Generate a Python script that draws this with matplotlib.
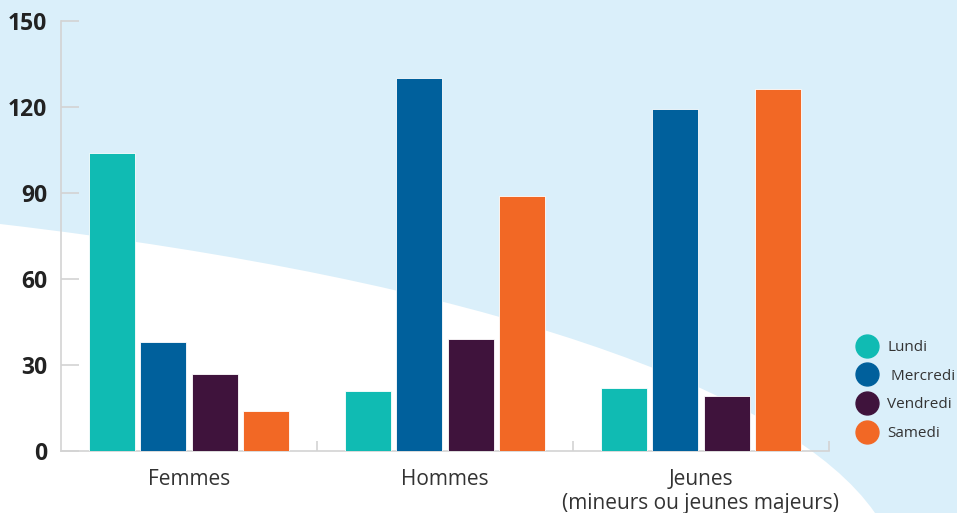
import numpy as np
import matplotlib
matplotlib.use("Agg")
import matplotlib.pyplot as plt
from matplotlib.path import Path
from matplotlib.patches import PathPatch
from matplotlib.lines import Line2D

# data
categories = ["Femmes", "Hommes", "Jeunes\n(mineurs ou jeunes majeurs)"]
series = ["Lundi", " Mercredi", "Vendredi", "Samedi"]
lundi = [104, 21, 22]
mercredi = [38, 130, 119]
vendredi = [27, 39, 19]
samedi = [14, 89, 126]
values = [lundi, mercredi, vendredi, samedi]
colors = ["#10BBB3", "#00609C", "#3F133C", "#F26825"]
yticks = [0, 30, 60, 90, 120, 150]

plt.rcParams["font.family"] = ["Open Sans", "DejaVu Sans"]

W, H = 957, 513
fig = plt.figure(figsize=(W / 100, H / 100), dpi=100)
fig.patch.set_facecolor("#DAEFFA")

# white curved background shape (pixel coords, y from top)
pts = [(0, 224), (480, 280), (790, 390), (875, 513), (0, 513), (0, 224)]
codes = [Path.MOVETO, Path.CURVE4, Path.CURVE4, Path.CURVE4, Path.LINETO, Path.CLOSEPOLY]
verts = [(x / W, 1 - y / H) for x, y in pts]
bg = PathPatch(Path(verts, codes), transform=fig.transFigure,
               facecolor="white", edgecolor="none", zorder=-10)
fig.patches.append(bg)

ax = fig.add_axes([61 / W, 1 - 451 / H, (829 - 61) / W, (451 - 20.5) / H])
ax.set_facecolor("none")

x = np.arange(len(categories))
width = 0.18
step = 0.2
for i, (vals, c) in enumerate(zip(values, colors)):
    ax.bar(x + (i - 1.5) * step, vals, width, color=c,
           edgecolor="white", linewidth=0.6, zorder=3)

ax.set_xlim(-0.5, 2.5)
ax.set_ylim(0, 150)

for s in ["top", "right"]:
    ax.spines[s].set_visible(False)
ax.spines["left"].set_color("#D3D3D3")
ax.spines["bottom"].set_color("#D3D3D3")
ax.spines["left"].set_linewidth(1.2)
ax.spines["bottom"].set_linewidth(1.2)

ax.set_yticks(yticks)
ax.tick_params(axis="y", direction="in", length=13, width=1.2, color="#D3D3D3",
               pad=10, labelsize=16.5, labelcolor="#222222")
for lab in ax.get_yticklabels():
    lab.set_fontweight("bold")

ax.set_xticks(x)
ax.set_xticklabels(categories)
ax.tick_params(axis="x", length=0, pad=13, labelsize=15, labelcolor="#333333")
ax.set_xticks([0.5, 1.5, 2.5], minor=True)
ax.tick_params(axis="x", which="minor", direction="in", length=7, width=1.2,
               color="#D3D3D3")

handles = [Line2D([], [], marker="o", linestyle="", markersize=16.5,
                  markerfacecolor=c, markeredgecolor=c) for c in colors]
fig.legend(handles, series, loc="upper left", bbox_to_anchor=(859 / W, 1 - 340 / H),
           frameon=False, fontsize=11, handlelength=1.0, handletextpad=0.85,
           labelspacing=0.9, borderpad=0, borderaxespad=0, labelcolor="#333333")

fig.savefig("out.png", dpi=100, facecolor=fig.get_facecolor())
